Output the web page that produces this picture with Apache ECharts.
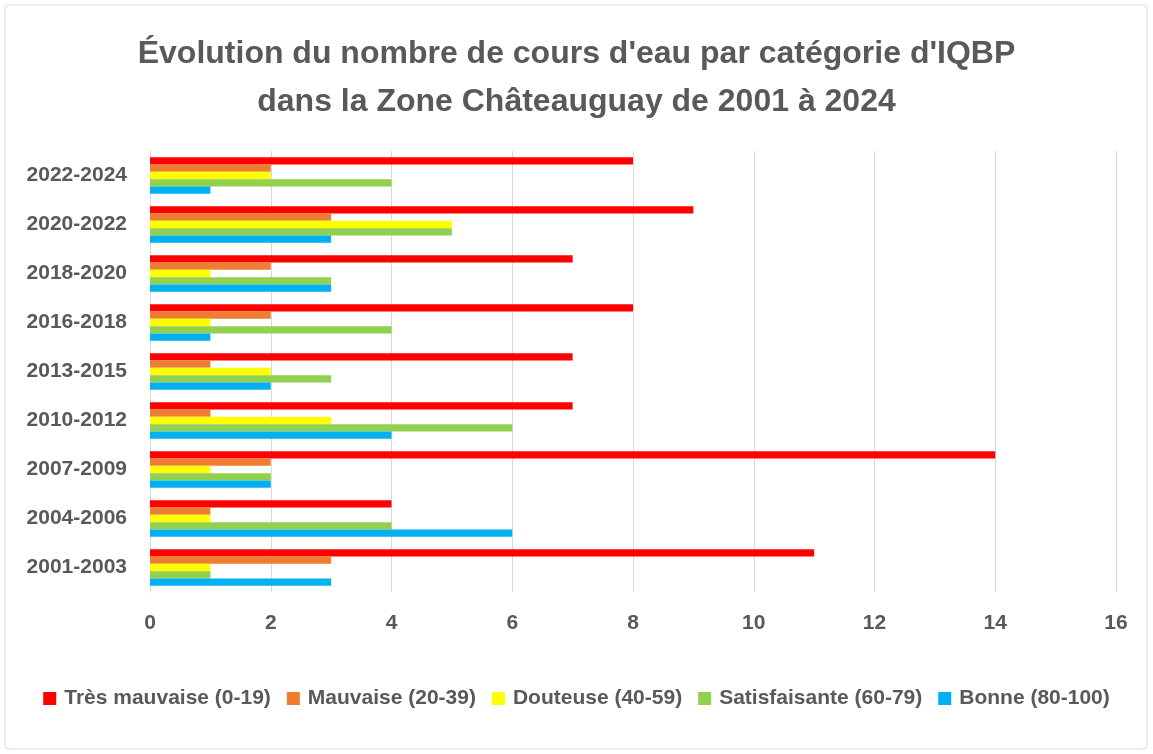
<!DOCTYPE html>
<html>
<head>
<meta charset="utf-8">
<script src="https://cdn.jsdelivr.net/npm/echarts@6/dist/echarts.min.js"></script>
<style>
  html, body { margin: 0; padding: 0; background: #fff; }
  #chart { width: 1153px; height: 754px; }
</style>
</head>
<body>
<div id="chart"></div>
<script>
// Périodes (du bas vers le haut)
const periodes = ['2001-2003', '2004-2006', '2007-2009', '2010-2012', '2013-2015',
                  '2016-2018', '2018-2020', '2020-2022', '2022-2024'];
const tresMauvaise = [11, 4, 14, 7, 7, 8, 7, 9, 8];
const mauvaise     = [3, 1, 2, 1, 1, 2, 2, 3, 2];
const douteuse     = [1, 1, 1, 3, 2, 1, 1, 5, 2];
const satisfaisante = [1, 4, 2, 6, 3, 4, 3, 5, 4];
const bonne        = [3, 6, 2, 4, 2, 1, 3, 3, 1];
const xTicks = [0, 2, 4, 6, 8, 10, 12, 14, 16];

const noms = ['Très mauvaise (0-19)', 'Mauvaise (20-39)', 'Douteuse (40-59)',
              'Satisfaisante (60-79)', 'Bonne (80-100)'];
const couleurs = ['#FF0000', '#ED7D31', '#FFFF00', '#92D050', '#00B0F0'];
const valeurs = [tresMauvaise, mauvaise, douteuse, satisfaisante, bonne];

const chart = echarts.init(document.getElementById('chart'));
const police = 'Liberation Sans';

const option = {
  animation: false,
  textStyle: { fontFamily: police },
  graphic: [{
    type: 'rect',
    shape: { x: 5, y: 5, width: 1142, height: 744, r: 4 },
    style: { fill: 'none', stroke: '#d9d9d9', lineWidth: 1 }
  }],
  title: {
    text: "Évolution du nombre de cours d'eau par catégorie d'IQBP\ndans la Zone Châteauguay de 2001 à 2024",
    left: 'center',
    top: 25,
    textStyle: {
      fontFamily: police,
      fontSize: 32,
      fontWeight: 'bold',
      color: '#595959',
      lineHeight: 48
    }
  },
  legend: {
    data: noms,
    bottom: 40,
    left: 'center',
    itemWidth: 13,
    itemHeight: 13,
    itemGap: 16,
    icon: 'rect',
    textStyle: { fontSize: 21, fontWeight: 'bold', color: '#595959', padding: [0, 0, 0, 3] }
  },
  grid: {
    left: 150,
    right: 37,
    top: 151,
    bottom: 162
  },
  xAxis: {
    type: 'value',
    min: 0,
    max: 16,
    interval: 2,
    axisLine: { show: false },
    axisTick: { show: false },
    splitLine: { lineStyle: { color: '#d9d9d9', width: 1 } },
    axisLabel: {
      margin: 21,
      fontSize: 21,
      fontWeight: 'bold',
      color: '#595959',
      formatter: function (v) { return xTicks.indexOf(v) >= 0 ? String(v) : ''; }
    }
  },
  yAxis: {
    type: 'category',
    data: periodes,
    axisLine: { show: true, lineStyle: { color: '#d9d9d9' } },
    axisTick: { show: false },
    axisLabel: {
      margin: 23,
      fontSize: 21,
      fontWeight: 'bold',
      color: '#595959'
    }
  },
  series: noms.map(function (nom, i) {
    return {
      name: nom,
      type: 'bar',
      data: valeurs[i],
      barGap: '0%',
      barCategoryGap: '26%',
      itemStyle: { color: couleurs[i] }
    };
  })
};

chart.setOption(option);
</script>
</body>
</html>
